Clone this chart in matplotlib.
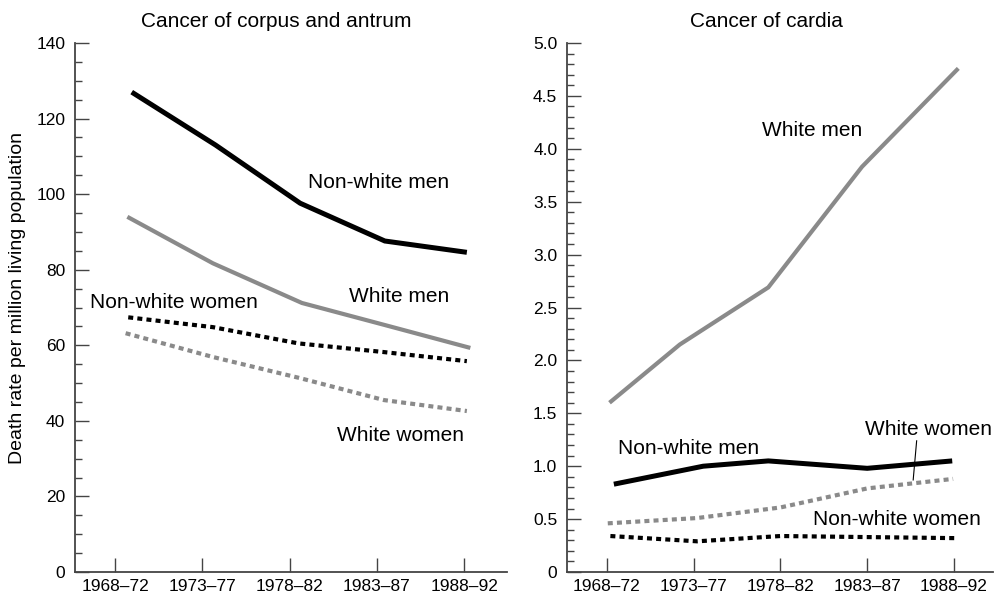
import numpy as np
import matplotlib
matplotlib.use("Agg")
from matplotlib import pyplot as plt
from matplotlib.ticker import MultipleLocator

plt.rcParams['font.family'] = ['Liberation Sans', 'DejaVu Sans']

periods = ["1968–72", "1973–77", "1978–82", "1983–87", "1988–92"]

# cancer of corpus and antrum (points sit slightly off the tick marks in the original)
ca_nw_men_x = [0.19, 1.15, 2.12, 3.09, 4.03]
ca_nw_men = [127, 113, 97.6, 87.6, 84.6]
ca_w_men_x = [0.14, 1.12, 2.14, 3.10, 4.07]
ca_w_men = [94, 81.7, 71.2, 65.3, 59.3]
ca_nw_women_x = [0.15, 1.12, 2.10, 3.08, 4.03]
ca_nw_women = [67.4, 64.8, 60.5, 58.2, 55.8]
ca_w_women_x = [0.12, 1.12, 2.12, 3.08, 4.03]
ca_w_women = [63.2, 56.9, 51.3, 45.5, 42.6]

# cancer of cardia
cd_w_men_x = [0.03, 0.84, 1.86, 2.94, 4.05]
cd_w_men = [1.60, 2.15, 2.69, 3.83, 4.76]
cd_nw_men_x = [0.08, 1.11, 1.86, 3.00, 3.98]
cd_nw_men = [0.83, 1.00, 1.05, 0.98, 1.05]
cd_w_women_x = [0.01, 1.04, 2.00, 3.00, 3.99]
cd_w_women = [0.46, 0.51, 0.61, 0.79, 0.88]
cd_nw_women_x = [0.04, 1.04, 2.00, 3.00, 4.03]
cd_nw_women = [0.34, 0.29, 0.34, 0.33, 0.32]

left_yticks = [0, 20, 40, 60, 80, 100, 120, 140]
right_yticks = [0, 0.5, 1.0, 1.5, 2.0, 2.5, 3.0, 3.5, 4.0, 4.5, 5.0]
right_yticklabels = ["0", "0.5", "1.0", "1.5", "2.0", "2.5", "3.0", "3.5", "4.0", "4.5", "5.0"]

GREY = "#8a8a8a"
AXIS = "#444444"
DOT = (0, (1.2, 1.0))

fig = plt.figure(figsize=(9.96, 5.95), dpi=100)
W, H = 996, 595
ax1 = fig.add_axes([75 / W, (H - 572) / H, (507 - 75) / W, (572 - 43) / H])
ax2 = fig.add_axes([567 / W, (H - 572) / H, (993 - 567) / W, (572 - 43) / H])


def style_axis(ax):
    for s in ["top", "right"]:
        ax.spines[s].set_visible(False)
    for s in ["left", "bottom"]:
        ax.spines[s].set_linewidth(1.3)
        ax.spines[s].set_color(AXIS)
    ax.set_xticks(range(len(periods)))
    ax.set_xticklabels(periods)
    ax.tick_params(axis="x", direction="in", length=10, width=1, pad=5,
                   labelsize=12.5, color=AXIS)
    ax.tick_params(axis="y", which="major", direction="in", length=10, width=1,
                   pad=7, labelsize=12.5, color=AXIS)
    ax.tick_params(axis="y", which="minor", direction="in", length=5, width=1, color=AXIS)


def draw(ax, x, y, color, lw, ls="-"):
    ax.plot(x, y, color=color, lw=lw, linestyle=ls,
            solid_capstyle="butt", dash_capstyle="butt", solid_joinstyle="miter")


# left panel
draw(ax1, ca_nw_men_x, ca_nw_men, "black", 3.6)
draw(ax1, ca_w_men_x, ca_w_men, GREY, 3.0)
draw(ax1, ca_nw_women_x, ca_nw_women, "black", 3.0, DOT)
draw(ax1, ca_w_women_x, ca_w_women, GREY, 3.0, DOT)
style_axis(ax1)
ax1.set_xlim(-0.46, 4.49)
ax1.set_ylim(0, 140)
ax1.set_yticks(left_yticks)
ax1.yaxis.set_minor_locator(MultipleLocator(5))
ax1.text(0.465, 1.04, "Cancer of corpus and antrum", transform=ax1.transAxes,
         ha="center", va="center", fontsize=15)

ax1.text(3.83, 103, "Non-white men", ha="right", va="center", fontsize=15)
ax1.text(3.83, 73, "White men", ha="right", va="center", fontsize=15)
ax1.text(-0.29, 71.2, "Non-white women", ha="left", va="center", fontsize=15)
ax1.text(4.0, 36.2, "White women", ha="right", va="center", fontsize=15)

# y label for both panels
fig.text(18 / W, 1 - 298 / H, "Death rate per million living population",
         rotation=90, ha="center", va="center", fontsize=14)

# right panel
draw(ax2, cd_w_men_x, cd_w_men, GREY, 3.0)
draw(ax2, cd_nw_men_x, cd_nw_men, "black", 3.6)
draw(ax2, cd_w_women_x, cd_w_women, GREY, 3.0, DOT)
draw(ax2, cd_nw_women_x, cd_nw_women, "black", 3.0, DOT)
style_axis(ax2)
ax2.set_xlim(-0.46, 4.45)
ax2.set_ylim(0, 5.0)
ax2.set_yticks(right_yticks)
ax2.set_yticklabels(right_yticklabels)
ax2.yaxis.set_minor_locator(MultipleLocator(0.1))
ax2.text(0.467, 1.04, "Cancer of cardia", transform=ax2.transAxes,
         ha="center", va="center", fontsize=15)

ax2.text(1.79, 4.17, "White men", ha="left", va="center", fontsize=15)
ax2.text(0.13, 1.17, "Non-white men", ha="left", va="center", fontsize=15)
ax2.text(2.97, 1.35, "White women", ha="left", va="center", fontsize=15)
ax2.text(2.37, 0.50, "Non-white women", ha="left", va="center", fontsize=15)
ax2.plot([3.57, 3.53], [1.24, 0.87], color="black", lw=0.8)

fig.savefig("out.png", dpi=100)
